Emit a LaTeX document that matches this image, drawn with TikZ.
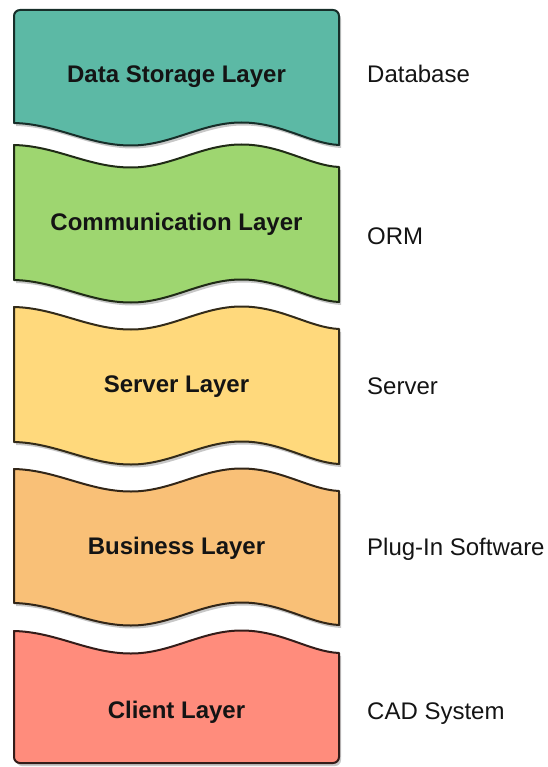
\documentclass[tikz,border=0pt]{standalone}
\usepackage{fontspec}
\setmainfont{Liberation Sans}
\usetikzlibrary{shadows}
\definecolor{cA}{HTML}{5CB9A5}
\definecolor{cB}{HTML}{9ED670}
\definecolor{cC}{HTML}{FFD97C}
\definecolor{cD}{HTML}{F9C077}
\definecolor{cE}{HTML}{FF8C7C}
\definecolor{txt}{HTML}{141414}
% wave from (14,#1) to (339,#1+22)
\newcommand\wavefwd[1]{.. controls (56.6,#1+1) and (88.4,#1+22.5) .. (131,#1+22.5)
  .. controls (171.2,#1+22.5) and (201.3,#1-0.5) .. (241.5,#1-0.5)
  .. controls (281.5,#1-0.5) and (309,#1+20.5) .. (339,#1+22)}
% wave from (339,#1+22) back to (14,#1)
\newcommand\waveback[1]{.. controls (309,#1+20.5) and (281.5,#1-0.5) .. (241.5,#1-0.5)
  .. controls (201.3,#1-0.5) and (171.2,#1+22.5) .. (131,#1+22.5)
  .. controls (88.4,#1+22.5) and (56.6,#1+1) .. (14,#1)}
\tikzset{
  layer/.style={line width=2pt, line join=round,
    drop shadow={shadow xshift=2pt, shadow yshift=-3pt, opacity=0.22, fill=black}},
  lname/.style={font=\fontsize{24}{28}\selectfont\bfseries, text=txt, anchor=base, inner sep=0pt},
  sname/.style={font=\fontsize{24}{28}\selectfont, text=txt, anchor=base west, inner sep=0pt}
}
\begin{document}
\begin{tikzpicture}[x=1pt,y=-1pt]
\useasboundingbox (0,0) rectangle (547,767);
% Data Storage
\draw[layer, fill=cA, draw=cA!25!black]
  (14,123) -- (14,16) .. controls (14,12.7) and (16.7,10) .. (20,10)
  -- (333,10) .. controls (336.3,10) and (339,12.7) .. (339,16)
  -- (339,145) \waveback{123} -- cycle;
% Communication
\draw[layer, fill=cB, draw=cB!20!black]
  (14,145) \wavefwd{145} -- (339,302) \waveback{280} -- cycle;
% Server
\draw[layer, fill=cC, draw=cC!20!black]
  (14,307) \wavefwd{307} -- (339,464) \waveback{442} -- cycle;
% Business
\draw[layer, fill=cD, draw=cD!20!black]
  (14,469) \wavefwd{469} -- (339,625) \waveback{603} -- cycle;
% Client
\draw[layer, fill=cE, draw=cE!20!black]
  (14,631) \wavefwd{631} -- (339,757) .. controls (339,760.3) and (336.3,763) .. (333,763)
  -- (20,763) .. controls (16.7,763) and (14,760.3) .. (14,757) -- cycle;
% layer names
\node[lname] (n1) at (176.5,83) {Data Storage Layer};
\node[lname] (n2) at (176.5,230) {Communication Layer};
\node[lname] (n3) at (176.5,392) {Server Layer};
\node[lname] (n4) at (176.5,554) {Business Layer};
\node[lname] (n5) at (176.5,718) {Client Layer};
% side labels
\node[sname] (s1) at (367,83) {Database};
\node[sname] (s2) at (367,244.5) {ORM};
\node[sname] (s3) at (367,394.5) {Server};
\node[sname] (s4) at (367,555) {Plug-In Software};
\node[sname] (s5) at (367,719.5) {CAD System};
\end{tikzpicture}
\end{document}
